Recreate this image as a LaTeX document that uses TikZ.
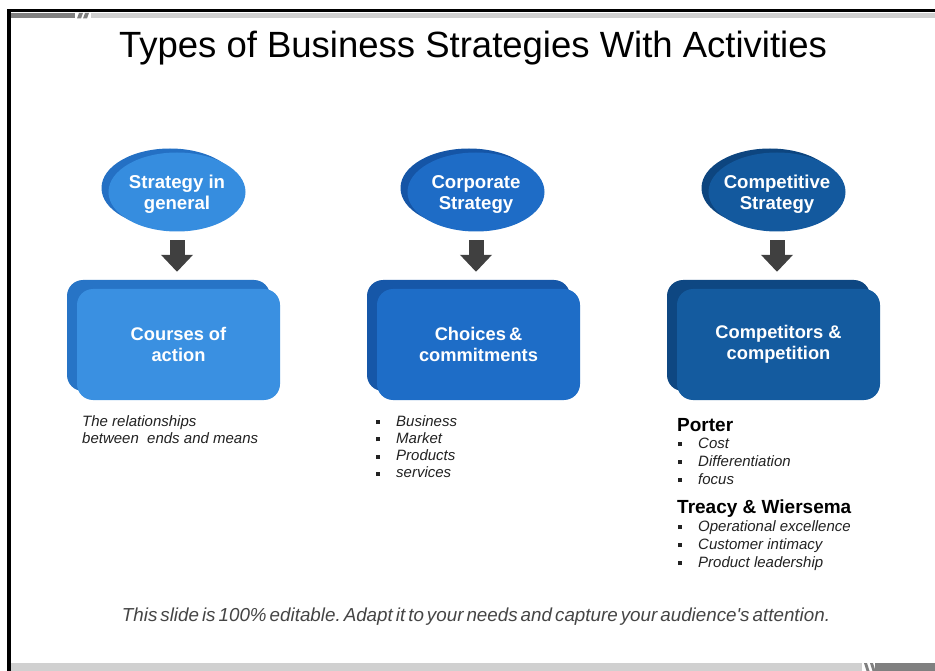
\documentclass[tikz,border=0pt]{standalone}
\usepackage{fontspec}
\setmainfont{Liberation Sans}
\usetikzlibrary{shapes.geometric,arrows.meta}

% palette
\definecolor{ovalA}{HTML}{368DDF}
\definecolor{ovalAback}{HTML}{2470C4}
\definecolor{ovalB}{HTML}{1E6CC6}
\definecolor{ovalBback}{HTML}{1555A6}
\definecolor{ovalC}{HTML}{13599E}
\definecolor{ovalCback}{HTML}{0D457F}
\definecolor{cardA}{HTML}{3A90E1}
\definecolor{cardAback}{HTML}{2774C6}
\definecolor{cardB}{HTML}{1E6DC7}
\definecolor{cardBback}{HTML}{1657A8}
\definecolor{cardC}{HTML}{145B9F}
\definecolor{cardCback}{HTML}{0E4782}
\definecolor{arrowgrey}{HTML}{404040}
\definecolor{notegrey}{HTML}{222222}
\definecolor{footgrey}{HTML}{454545}
\definecolor{bardark}{HTML}{808080}
\definecolor{barlight}{HTML}{D0D0D0}

\newcommand{\sqbul}{\rule[2pt]{4pt}{4pt}\hspace{16pt}}

\begin{document}
\begin{tikzpicture}[x=1pt,y=-1pt,
  oval/.style={ellipse, inner sep=0, minimum width=137pt, minimum height=79pt},
  ovaltext/.style={text=white, font=\bfseries\fontsize{18.6}{21}\selectfont, align=center},
  card/.style={rectangle, rounded corners=16pt, inner sep=0, minimum width=203pt,
    minimum height=111pt, text=white, font=\bfseries\fontsize{18.3}{21}\selectfont, align=center},
  blockarrow/.style={draw=arrowgrey, line width=15pt, -{Triangle[width=31pt,length=17pt]}},
  note/.style={inner sep=0, anchor=north west, align=left, text=notegrey,
    font=\itshape\fontsize{15}{17.3}\selectfont},
  head/.style={inner sep=0, anchor=north west, text=black,
    font=\bfseries\fontsize{19}{22}\selectfont},
  items/.style={inner sep=0, anchor=north west, align=left, text=notegrey,
    font=\itshape\fontsize{15}{18}\selectfont}]

\useasboundingbox (0,0) rectangle (935,671);
\fill[white] (0,0) rectangle (935,671);

% slide frame: black rules, grey bands with slashes
\fill[black] (7,9) rectangle (935,12.5);
\fill[black] (7,9) rectangle (10.5,671);
\fill[bardark] (10.5,13) rectangle (75,18.5);
\fill[bardark] (79,13) -- (83,13) -- (81,18.5) -- (77,18.5) -- cycle;
\fill[bardark] (85,13) -- (89,13) -- (87,18.5) -- (83,18.5) -- cycle;
\fill[barlight] (91,13) rectangle (935,18.5);
\fill[barlight] (10.5,663) rectangle (862,671);
\fill[bardark] (864,663) -- (867,663) -- (869.5,671) -- (866.5,671) -- cycle;
\fill[bardark] (870,663) -- (873,663) -- (875.5,671) -- (872.5,671) -- cycle;
\fill[bardark] (875,663) rectangle (935,671);

% title
\node[inner sep=0, font=\fontsize{36.5}{40}\selectfont] (title) at (473,48)
  {Types of Business Strategies With Activities};

% column 1
\node[oval, fill=ovalAback] (e1s) at (170,188) {};
\node[oval, fill=ovalA] (e1) at (177,192) {};
\node[ovaltext] (t1) at (177,194) {Strategy in\\general};
\node[card, fill=cardAback] (b1s) at (168.5,335.5) {};
\node[card, fill=cardA] (b1) at (178.5,344.5) {Courses of\\action};
\draw[blockarrow] ([yshift=-8.5pt]e1.south) -- ([yshift=17pt]e1.south |- b1.north);

% column 2
\node[oval, fill=ovalBback] (e2s) at (469,188) {};
\node[oval, fill=ovalB] (e2) at (476,192) {};
\node[ovaltext] (t2) at (476,194) {Corporate\\Strategy};
\node[card, fill=cardBback] (b2s) at (468.5,335.5) {};
\node[card, fill=cardB] (b2) at (478.5,344.5) {Choices\,\&\\commitments};
\draw[blockarrow] ([yshift=-8.5pt]e2.south) -- ([yshift=17pt]e2.south |- b2.north);

% column 3
\node[oval, fill=ovalCback] (e3s) at (770,188) {};
\node[oval, fill=ovalC] (e3) at (777,192) {};
\node[ovaltext] (t3) at (777,194) {Competitive\\Strategy};
\node[card, fill=cardCback] (b3s) at (768.5,335.5) {};
\node[card, fill=cardC] (b3) at (778.5,344.5) {Competitors \&\\competition};
\draw[blockarrow] ([yshift=-8.5pt]e3.south) -- ([yshift=17pt]e3.south |- b3.north);

% notes under the cards
\node[note] (n1) at (82,415) {The relationships\\between\ \ ends and means};
\node[note] (n2) at (376,415) {\sqbul Business\\\sqbul Market\\\sqbul Products\\\sqbul services};
\node[head] (porter) at (677,418) {Porter};
\node[items] (p1) at (678,437.5) {\sqbul Cost\\\sqbul Differentiation\\\sqbul focus};
\node[head] (tw) at (677,500) {Treacy \& Wiersema};
\node[items] (p2) at (678,520) {\sqbul Operational excellence\\\sqbul Customer intimacy\\\sqbul Product leadership};

% footer
\node[inner sep=0, text=footgrey, font=\itshape\fontsize{18.8}{21}\selectfont] (foot) at (476,617)
  {\frenchspacing\spaceskip=3pt plus 1pt This slide is 100\% editable. Adapt it to your needs and capture your audience\textquotesingle s attention.};
\end{tikzpicture}
\end{document}
